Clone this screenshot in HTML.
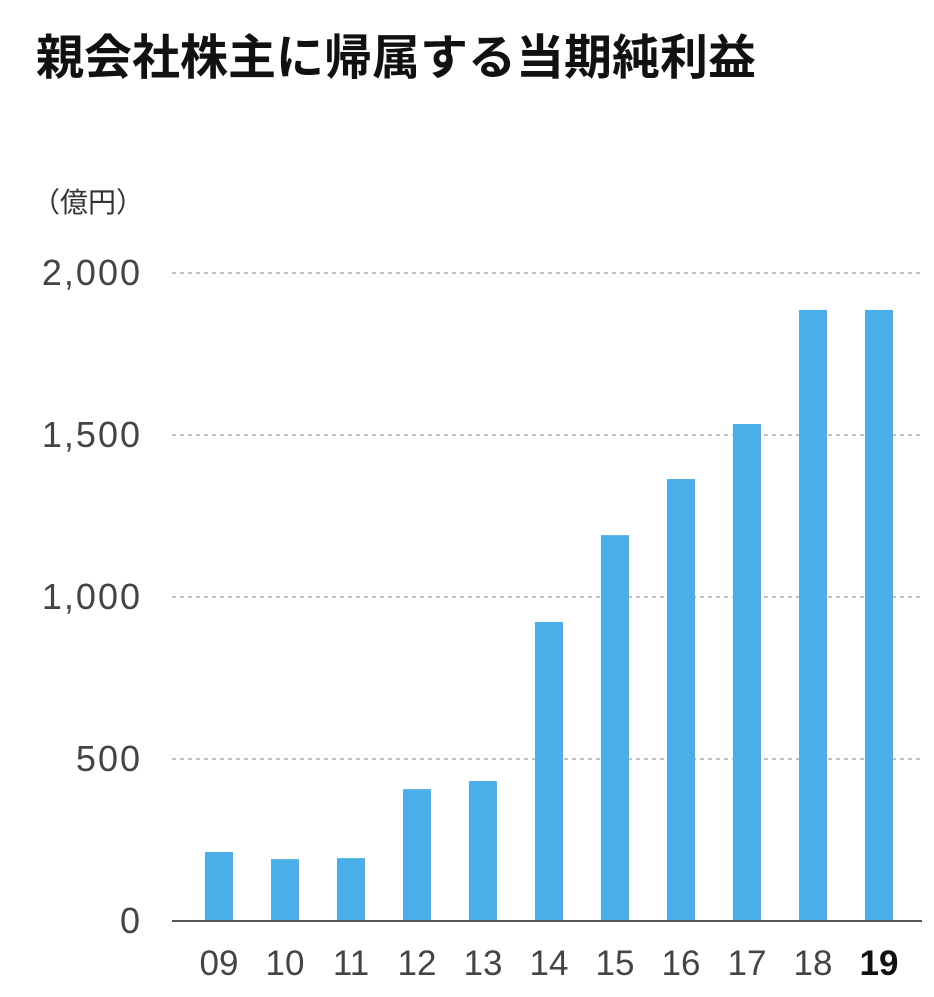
<!DOCTYPE html>
<html><head><meta charset="utf-8">
<style>
html,body{margin:0;padding:0;background:#fff;}
body{width:934px;height:992px;overflow:hidden;font-family:"Liberation Sans","Noto Sans CJK JP",sans-serif;}
</style></head>
<body>
<svg id="chart" width="934" height="992" xmlns="http://www.w3.org/2000/svg">
<text x="36" y="74" font-size="48" font-weight="bold" fill="#111" font-family="'Liberation Sans','Noto Sans CJK JP',sans-serif">親会社株主に帰属する当期純利益</text>
<text x="32" y="212" font-size="28" fill="#333" font-family="'Liberation Sans','Noto Sans CJK JP',sans-serif">（億円）</text>
<g id="grid"></g>
<g id="bars"></g>
<g id="xlabels"></g>
<line x1="172" y1="921" x2="922" y2="921" stroke="#555" stroke-width="2"/>
</svg>
<script>
const categories = ["09","10","11","12","13","14","15","16","17","18","19"];
const values = [213,191,194,407,432,923,1191,1364,1534,1886,1886];
const yTicks = [0,500,1000,1500,2000];
const yTickLabels = ["0","500","1,000","1,500","2,000"];

const NS="http://www.w3.org/2000/svg";
const y0=921, pxPerUnit=(921-273)/2000;
function yScale(v){return y0 - v*pxPerUnit;}
function xCenter(i){return 219 + i*66;}
const grid=document.getElementById('grid');
yTicks.forEach((t,i)=>{
  if(t>0){
    const l=document.createElementNS(NS,'line');
    
    
    l.setAttribute('x1',172);l.setAttribute('x2',922);
    l.setAttribute('y1',yScale(t));l.setAttribute('y2',yScale(t));
    l.setAttribute('stroke','#999');l.setAttribute('stroke-width','1.2');
    l.setAttribute('stroke-dasharray','4,4');
    grid.appendChild(l);
  }
  const tx=document.createElementNS(NS,'text');
  
  
  tx.setAttribute('x',142);tx.setAttribute('y',yScale(t)+12);
  tx.setAttribute('text-anchor','end');tx.setAttribute('font-size','36');
  tx.setAttribute('letter-spacing','2');
  tx.setAttribute('fill','#444');
  tx.textContent=yTickLabels[i];
  grid.appendChild(tx);
});
const bars=document.getElementById('bars');
const xl=document.getElementById('xlabels');
categories.forEach((c,i)=>{
  const r=document.createElementNS(NS,'rect');
  
  
  r.setAttribute('x',xCenter(i)-14);r.setAttribute('width',28);
  r.setAttribute('y',yScale(values[i]));r.setAttribute('height',y0-yScale(values[i]));
  r.setAttribute('fill','#4baee8');
  bars.appendChild(r);
  const t=document.createElementNS(NS,'text');
  
  
  t.setAttribute('x',xCenter(i));t.setAttribute('y',975);
  t.setAttribute('text-anchor','middle');t.setAttribute('font-size','35');
  t.setAttribute('fill', i===categories.length-1?'#111':'#444');
  if(i===categories.length-1) t.setAttribute('font-weight','bold');
  t.textContent=c;
  xl.appendChild(t);
});
</script>
</body></html>
